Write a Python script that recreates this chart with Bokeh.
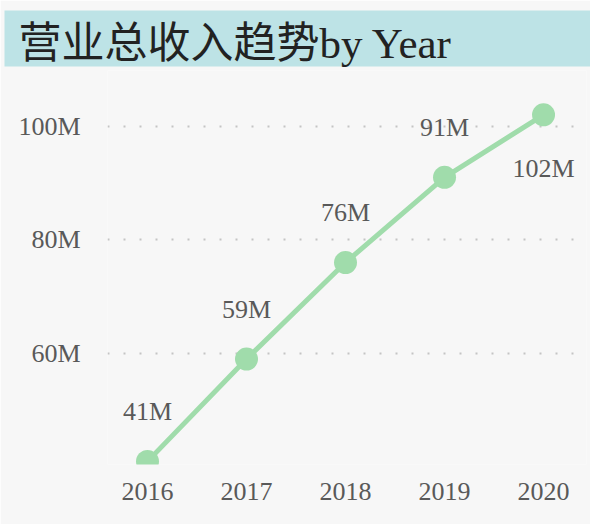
from bokeh.plotting import figure
from bokeh.models import ColumnDataSource, FixedTicker, Range1d
from bokeh.core.properties import value
from bokeh.embed import file_html
from bokeh.resources import INLINE

# ---- data ----
title_text = "营业总收入趋势by Year"
years = [2016, 2017, 2018, 2019, 2020]
x_tick_labels = ["2016", "2017", "2018", "2019", "2020"]
revenue_m = [41, 59, 76, 91, 102]
revenue_labels = ["41M", "59M", "76M", "91M", "102M"]
y_ticks = [60, 80, 100]
y_tick_labels = ["60M", "80M", "100M"]

# ---- styles / layout ----
BG = "#f7f7f7"
BAND = "#bde3e6"
GREEN = "#a0dcab"
TXT = "#595959"
SERIF = "Liberation Serif"
W, H = 590, 524
FL, FR, FT, FB = 107, 586, 70, 464          # frame edges in pixels
X0, X1 = 2015.596, 2020.434
Y0, Y1 = 40.45, 109.8

offsets = [-50 if i < len(years) - 1 else 54 for i in range(len(years))]
src = ColumnDataSource(dict(year=years, rev=revenue_m, label=revenue_labels, dy=offsets))

p = figure(width=W, height=H, output_backend="svg", toolbar_location=None,
           x_range=Range1d(X0, X1), y_range=Range1d(Y0, Y1),
           min_border_left=FL, min_border_right=W - FR, min_border_top=FT,
           min_border_bottom=H - FB,
           background_fill_color=BG, border_fill_color=BG)
p.outline_line_color = None

# title with a band-like background
p.title.text = title_text
p.title.text_font = f"{SERIF}, Noto Sans CJK SC"
p.title.text_font_size = "43px"
p.title.text_font_style = "normal"
p.title.text_color = "#222222"
p.title.align = "left"
p.title.offset = 4 - FL
p.title.standoff = 8
p.title.background_fill_color = BAND
p.title.background_fill_alpha = 1.0
try:
    p.title.padding = dict(left=14, right=180, top=9, bottom=0)
except Exception:
    pass

# axes
p.xaxis.ticker = FixedTicker(ticks=years)
p.xaxis.major_label_overrides = dict(zip(years, x_tick_labels))
p.yaxis.ticker = FixedTicker(ticks=y_ticks)
p.yaxis.major_label_overrides = dict(zip(y_ticks, y_tick_labels))
for ax in (p.xaxis[0], p.yaxis[0]):
    ax.axis_line_color = None
    ax.major_tick_line_color = None
    ax.minor_tick_line_color = None
    ax.major_tick_in = 0
    ax.major_tick_out = 0
    ax.major_label_text_font = SERIF
    ax.major_label_text_font_size = "26px"
    ax.major_label_text_color = TXT
p.yaxis.major_label_standoff = 27
p.xaxis.major_label_standoff = 18

p.xgrid.grid_line_color = None
p.ygrid.grid_line_color = "#c4c4c4"
p.ygrid.grid_line_dash = "2 14"
p.ygrid.grid_line_width = 2

# series
p.line("year", "rev", source=src, line_color=GREEN, line_width=5)
p.scatter("year", "rev", source=src, size=23, fill_color=GREEN, line_color=None)
p.text("year", "rev", text="label", source=src, y_offset="dy",
       text_align="center", text_baseline="middle",
       text_font=value(SERIF), text_font_size="26px", text_color=TXT)

open("out.html", "w").write(file_html(p, INLINE))
